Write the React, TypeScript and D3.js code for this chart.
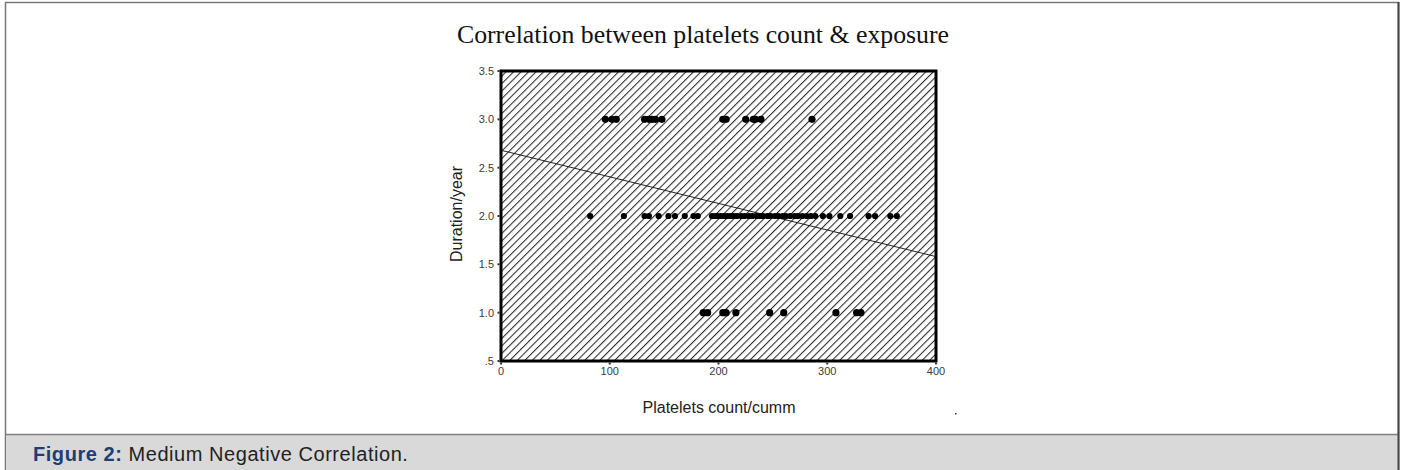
import React from "react";
import * as d3 from "d3";

const title = "Correlation between platelets count & exposure";
const xLabel = "Platelets count/cumm";
const yLabel = "Duration/year";
const xTicks = [0, 100, 200, 300, 400];
const yTicks = [0.5, 1.0, 1.5, 2.0, 2.5, 3.0, 3.5];
const yTickLabels = [".5", "1.0", "1.5", "2.0", "2.5", "3.0", "3.5"];

const plateletsAt3 = [96, 102, 106, 132, 136, 139, 142, 148, 204, 207, 225, 232, 234, 239, 286];
const plateletsAt2 = [
  82, 113, 132, 136, 145, 154, 160, 169, 177, 181, 194, 197, 199, 202, 205, 208, 211, 214,
  217, 221, 224, 228, 231, 235, 238, 241, 245, 248, 252, 255, 259, 262, 266, 270, 273,
  277, 281, 285, 289, 296, 302, 312, 321, 338, 344, 358, 364,
];
const plateletsAt1 = [186, 190, 204, 207, 216, 247, 260, 308, 327, 331];

const regression = { intercept: 2.68, slope: -0.00275 };

const caption = { bold: "Figure 2:", rest: " Medium Negative Correlation." };

export default function App() {
  const W = 1402;
  const H = 470;
  const left = 501;
  const right = 936;
  const top = 71;
  const bottom = 361;

  const x = d3.scaleLinear().domain([0, 400]).range([left, right]);
  const y = d3.scaleLinear().domain([0.5, 3.5]).range([bottom, top]);

  const points = [
    ...plateletsAt3.map((v) => ({ v, d: 3 })),
    ...plateletsAt2.map((v) => ({ v, d: 2 })),
    ...plateletsAt1.map((v) => ({ v, d: 1 })),
  ];

  const lineGen = d3
    .line<number>()
    .x((v) => x(v))
    .y((v) => y(regression.intercept + regression.slope * v));

  const sans = "Liberation Sans, Arial, sans-serif";

  return (
    <svg
      width={W}
      height={H}
      style={{ position: "absolute", left: 0, top: 0 }}
      xmlns="http://www.w3.org/2000/svg"
    >
      <defs>
        <pattern
          id="hatch"
          patternUnits="userSpaceOnUse"
          width={5.3}
          height={10}
          patternTransform="rotate(45)"
        >
          <line x1={0.5} y1={0} x2={0.5} y2={10} stroke="#2a2a2a" strokeWidth={1.1} />
        </pattern>
        <clipPath id="plotClip">
          <rect x={left} y={top} width={right - left} height={bottom - top} />
        </clipPath>
      </defs>
      {/* frame */}
      <rect x={0} y={0} width={W} height={H} fill="#fff" />
      <rect x={5.5} y={2.5} width={1393} height={470} fill="#fff" stroke="#777" strokeWidth={1.5} />
      <rect x={6} y={434} width={1392} height={40} fill="#d9d9d9" />
      <line x1={6} x2={1398} y1={434.5} y2={434.5} stroke="#808080" strokeWidth={1.5} />
      <line x1={1398.5} x2={1398.5} y1={2} y2={470} stroke="#444" strokeWidth={2} />
      <text x={33} y={461} fontFamily={sans} fontSize={20} letterSpacing={0.55} fill="#222">
        <tspan fontWeight="bold" fill="#1c3f73">{caption.bold}</tspan>
        <tspan>{caption.rest}</tspan>
      </text>

      {/* title */}
      <text
        x={703}
        y={43}
        textAnchor="middle"
        fontFamily="Liberation Serif, serif"
        fontSize={25.8}
        fill="#111"
      >
        {title}
      </text>

      {/* plot background hatch */}
      <rect x={left} y={top} width={right - left} height={bottom - top} fill="url(#hatch)" />

      {/* regression line */}
      <g clipPath="url(#plotClip)">
        <path d={lineGen([0, 400]) || ""} fill="none" stroke="#222" strokeWidth={1} />
      </g>

      {/* points */}
      {points.map((p, i) => (
        <circle key={i} cx={x(p.v)} cy={y(p.d)} r={p.d === 2 ? 3.1 : 3.6} fill="#000" />
      ))}

      {/* border */}
      <rect
        x={left}
        y={top}
        width={right - left}
        height={bottom - top}
        fill="none"
        stroke="#000"
        strokeWidth={3}
      />

      {/* y ticks */}
      {yTicks.map((t, i) => (
        <g key={t}>
          <rect x={left - 3.5} y={y(t) - 1} width={2} height={2} fill="#333" />
          <text
            x={left - 7}
            y={y(t) + 4}
            textAnchor="end"
            fontFamily={sans}
            fontSize={11}
            fill="#3a3a3a"
          >
            {yTickLabels[i]}
          </text>
        </g>
      ))}

      {/* x ticks */}
      {xTicks.map((t) => (
        <g key={t}>
          <rect x={x(t) - 1} y={bottom + 1.5} width={2} height={2} fill="#333" />
          <text
            x={x(t)}
            y={bottom + 14}
            textAnchor="middle"
            fontFamily={sans}
            fontSize={11}
            fill="#3a3a3a"
          >
            {t}
          </text>
        </g>
      ))}

      {/* axis labels */}
      <text x={719} y={413} textAnchor="middle" fontFamily={sans} fontSize={16} fill="#222">
        {xLabel}
      </text>
      <text
        transform={`translate(462, 214) rotate(-90)`}
        textAnchor="middle"
        fontFamily={sans}
        fontSize={16}
        fill="#222"
      >
        {yLabel}
      </text>
      <rect x={955} y={413} width={1.5} height={1.5} fill="#333" />
    </svg>
  );
}
